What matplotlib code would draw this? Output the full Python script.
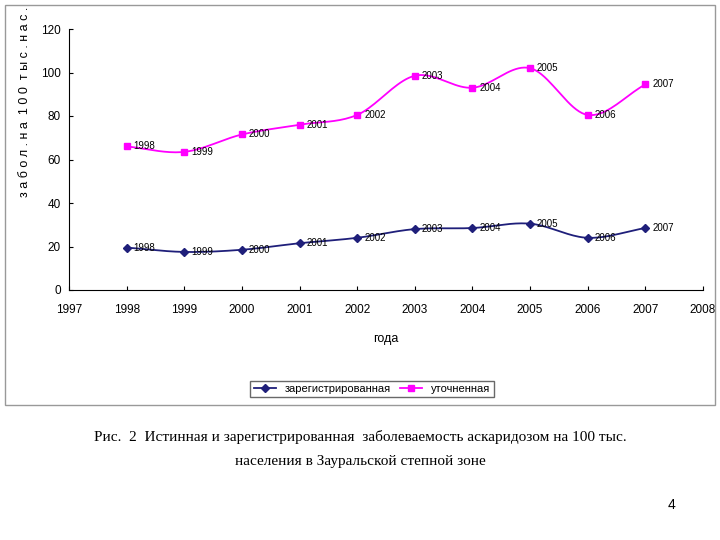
import numpy as np
import matplotlib
matplotlib.use("Agg")
import matplotlib.pyplot as plt
from matplotlib.patches import Rectangle

years = [1998, 1999, 2000, 2001, 2002, 2003, 2004, 2005, 2006, 2007]
registered = [19.5, 17.5, 18.5, 21.5, 24, 28, 28.5, 30.5, 24, 28.5]
refined = [66, 63.5, 71.5, 76, 80.5, 98.5, 93, 102, 80.5, 94.5]
xticks = list(range(1997, 2009))
yticks = [0, 20, 40, 60, 80, 100, 120]

def smooth(x, y, n=20):
    x = np.asarray(x, float); y = np.asarray(y, float)
    px = np.concatenate([[2*x[0]-x[1]], x, [2*x[-1]-x[-2]]])
    py = np.concatenate([[2*y[0]-y[1]], y, [2*y[-1]-y[-2]]])
    ox, oy = [], []
    t = np.linspace(0, 1, n, endpoint=False)
    for i in range(1, len(px)-2):
        for arr, out in ((px, ox), (py, oy)):
            p0, p1, p2, p3 = arr[i-1:i+3]
            out.extend(0.5*((2*p1) + (-p0+p2)*t + (2*p0-5*p1+4*p2-p3)*t**2 + (-p0+3*p1-3*p2+p3)*t**3))
    ox.append(x[-1]); oy.append(y[-1])
    return ox, oy

fig = plt.figure(figsize=(7.2, 5.4), dpi=100)
fig.patches.append(Rectangle((5/720, 1-405/540), 710/720, 400/540, transform=fig.transFigure,
                             fill=False, edgecolor="#999999", lw=1))
ax = fig.add_axes([69/720, 1-290/540, 634/720, 261/540])
blue = "#1f1f7a"; pink = "#ff00ff"
sx, sy = smooth(years, registered)
ax.plot(sx, sy, color=blue, lw=1.3)
ax.plot(years, registered, "D", color=blue, ms=4, ls="none")
sx, sy = smooth(years, refined)
ax.plot(sx, sy, color=pink, lw=1.3)
ax.plot(years, refined, "s", color=pink, ms=4, ls="none")
for x, a, b in zip(years, registered, refined):
    ax.text(x+0.12, a, str(x), fontsize=7, va="center", family="Liberation Sans")
    ax.text(x+0.12, b, str(x), fontsize=7, va="center", family="Liberation Sans")
ax.set_xlim(1997, 2008); ax.set_ylim(0, 120)
ax.set_xticks(xticks); ax.set_yticks(yticks)
ax.tick_params(labelsize=8.5, direction="in", length=3)
ax.tick_params(axis="x", pad=10)
ax.tick_params(axis="y", pad=6)
for lab in ax.get_xticklabels() + ax.get_yticklabels():
    lab.set_family("Liberation Sans")
ax.spines["top"].set_visible(False); ax.spines["right"].set_visible(False)
ax.set_xlabel("года", fontsize=9, family="Liberation Sans", labelpad=12)
ax.set_ylabel("з а б о л . н а  1 0 0  т ы с . н а с .", fontsize=9, family="Liberation Sans")
ax.yaxis.set_label_coords(-0.06, 0.72)
h = [plt.Line2D([], [], color=blue, marker="D", ms=4, lw=1.3),
     plt.Line2D([], [], color=pink, marker="s", ms=4, lw=1.3)]
leg = fig.legend(h, ["зарегистрированная", "уточненная"], loc="center",
                 bbox_to_anchor=(372/720, 1-389/540), ncol=2,
                 frameon=True, fancybox=False, edgecolor="#444444", handlelength=2,
                 prop={"family": "Liberation Sans", "size": 8}, borderpad=0.3, columnspacing=0.8)
fig.text(0.5, 1-437/540, "Рис.  2  Истинная и зарегистрированная  заболеваемость аскаридозом на 100 тыс.",
         ha="center", va="center", fontsize=11, family="Liberation Serif")
fig.text(0.5, 1-462/540, "населения в Зауральской степной зоне",
         ha="center", va="center", fontsize=11, family="Liberation Serif")
fig.text(672/720, 1-505/540, "4", ha="center", va="center", fontsize=10, family="Liberation Sans")
fig.savefig("out.png", dpi=100)
